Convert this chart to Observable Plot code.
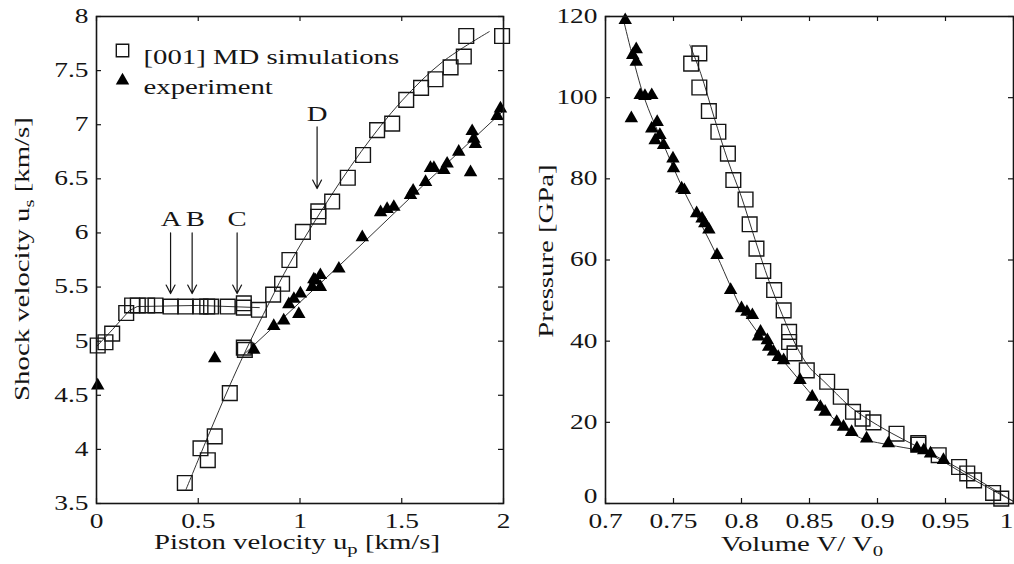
<!DOCTYPE html>
<html><head><meta charset="utf-8">
<script src="https://cdn.jsdelivr.net/npm/d3@7"></script>
<script src="https://cdn.jsdelivr.net/npm/@observablehq/plot@0.6"></script>
<style>
html,body{margin:0;padding:0;background:#fff;}
#wrap{position:relative;width:1014px;height:564px;font-family:"Liberation Serif","Times New Roman",serif;color:#151515;overflow:hidden;}
.lab{position:absolute;white-space:nowrap;font-size:21px;line-height:1;}
.sub{font-size:0.72em;position:relative;top:0.32em;}
</style></head>
<body>
<div id="wrap">
  <div id="left" style="position:absolute;left:0;top:0"></div>
  <div id="right" style="position:absolute;left:505px;top:0"></div>
  <div class="lab" style="left:297px;top:532px;transform:translateX(-50%) scaleX(1.37)">Piston velocity u<span class="sub">p</span> [km/s]</div>
  <div class="lab" style="left:22px;top:259px;transform:translate(-50%,-50%) rotate(-90deg) scaleX(1.37)">Shock velocity u<span class="sub">s</span> [km/s]</div>
  <div class="lab" style="left:802px;top:534px;transform:translateX(-50%) scaleX(1.37)">Volume V/ V<span class="sub">0</span></div>
  <div class="lab" style="left:546px;top:251px;transform:translate(-50%,-50%) rotate(-90deg) scaleX(1.37)">Pressure [GPa]</div>
</div>
<script>
// ---------- Left panel data: shock velocity vs piston velocity ----------
const mdUp = [0.006,0.044,0.077,0.146,0.175,0.203,0.249,0.29,0.364,0.437,0.511,0.544,0.563,0.645,0.724,0.724,0.798,0.868,0.912,0.948,1.014,1.09,1.09,1.158,1.235,1.31,1.379,1.453,1.522,1.595,1.666,1.74,1.805,1.817,1.993,0.724,0.729,0.655,0.581,0.511,0.547,0.434];
const mdUs = [4.96,4.99,5.07,5.26,5.33,5.33,5.33,5.33,5.32,5.32,5.32,5.32,5.32,5.32,5.35,5.31,5.29,5.43,5.53,5.75,6.01,6.20,6.15,6.29,6.51,6.72,6.95,7.01,7.23,7.34,7.42,7.53,7.63,7.82,7.82,4.94,4.92,4.52,4.12,4.01,3.90,3.69];
const expUp = [0.006,0.581,0.773,0.871,0.92,0.945,0.97,0.994,1.002,1.06,1.076,1.10,1.10,1.068,1.191,1.306,1.396,1.428,1.461,1.543,1.556,1.617,1.641,1.658,1.707,1.723,1.78,1.838,1.846,1.854,1.862,1.969,1.985];
const expUs = [4.59,4.84,4.92,5.14,5.19,5.34,5.39,5.25,5.44,5.50,5.56,5.61,5.50,5.57,5.67,5.96,6.19,6.22,6.24,6.35,6.39,6.47,6.60,6.60,6.58,6.64,6.75,6.56,6.94,6.87,6.82,7.08,7.15];
// fitted curves (vertices)
const fitElasticUp = [0,0.08,0.16,0.2,0.5,0.8];
const fitElasticUs = [4.95,5.11,5.28,5.32,5.33,5.31];
const fitPlasticUp = [0.44,0.55,0.65,0.73,0.85,0.95,1.1,1.3,1.5,1.7,1.93];
const fitPlasticUs = [3.63,4.13,4.57,4.90,5.36,5.72,6.19,6.75,7.22,7.58,7.86];
const fitExpUp = [0.72,1.2,1.6,2.0];
const fitExpUs = [4.87,5.71,6.43,7.13];
// annotations
const arrowLabels = ["A","B","C","D"];
const arrowX = [0.364,0.47,0.691,1.084];
const arrowTop = [6.0,6.0,6.0,6.98];
const arrowTip = [5.44,5.44,5.44,6.41];
const labelX = [0.367,0.486,0.691,1.084];
const labelY = [6.13,6.13,6.13,7.1];
const xTicksL = [0,0.5,1,1.5,2];
const yTicksL = [3.5,4,4.5,5,5.5,6,6.5,7,7.5,8];
const legendLabels = ["[001] MD simulations","experiment"];

// ---------- Right panel data: pressure vs volume ----------
const mdV = [0.769,0.763,0.769,0.776,0.783,0.790,0.794,0.803,0.806,0.811,0.816,0.824,0.831,0.835,0.835,0.839,0.848,0.863,0.873,0.882,0.889,0.897,0.914,0.930,0.930,0.945,0.960,0.966,0.971,0.985,0.991];
const mdP = [110.9,108.4,102.5,96.7,91.6,86.2,79.7,74.9,68.8,62.8,57.3,52.6,47.6,42.3,39.8,37.0,32.8,30.0,26.3,22.6,20.9,20.0,17.2,14.9,14.5,11.9,9.0,7.4,5.7,2.6,1.2];
const expV = [0.7145,0.7226,0.720,0.7226,0.7255,0.734,0.729,0.719,0.738,0.734,0.740,0.7365,0.7427,0.7496,0.750,0.756,0.758,0.767,0.771,0.773,0.776,0.782,0.792,0.800,0.804,0.808,0.814,0.8125,0.819,0.820,0.8235,0.827,0.831,0.843,0.852,0.858,0.8615,0.870,0.875,0.881,0.892,0.908,0.929,0.934,0.939,0.9485];
const expP = [119.1,111.9,110.5,108.8,100.6,100.6,100.4,94.9,94.0,92.4,90.8,89.5,88.3,85.0,82.6,77.6,77.2,71.5,70.2,69.0,67.5,61.2,52.6,48.1,47.2,46.4,42.3,41.1,40.2,38.6,37.4,36.1,35.3,30.4,26.3,23.8,22.6,20.1,18.9,17.6,16.0,14.8,13.6,13.1,12.3,10.7];
const fitMdV = [0.762,0.77,0.78,0.79,0.80,0.81,0.82,0.83,0.84,0.85,0.86,0.87,0.88,0.90,0.92,0.94,0.96,0.98,1.0];
const fitMdP = [113,106,95,84.5,75.5,65,55,46.5,39,33.5,30.3,27,23.8,19.3,15.6,12.2,8.6,4.6,0.5];
const fitExpV = [0.713,0.728,0.742,0.757,0.77,0.782,0.792,0.80,0.81,0.82,0.831,0.843,0.855,0.868,0.88,0.89,0.90,0.914,0.934,0.95,0.97,1.0];
const fitExpP = [119.5,100.5,89,77.5,69,61,53.5,48,43,38.8,35,30.2,25.5,20.8,17.6,15.8,15.0,14.1,12.7,10,6,0.5];
const xTicksR = [0.7,0.75,0.8,0.85,0.9,0.95,1];
const yTicksR = [0,20,40,60,80,100,120];

// ---------- helpers ----------
const ink = "#151515";
const font = "'Liberation Serif','Times New Roman',serif";
const stretchX = 1.37; // the reference's lettering is wide
const zip = (a, b) => a.map((v, i) => ({x: v, y: b[i]}));
const sqR = 8.3, triR = 5.0;
const fmt = d => String(d);

function widenText(svg, s) {
  d3.select(svg).selectAll("text").each(function() {
    const t = this.getAttribute("transform") || "";
    const xa = this.getAttribute("x"), ya = this.getAttribute("y");
    if (xa != null || ya != null) {
      const X = +xa || 0, Y = +ya || 0;
      this.setAttribute("transform", `${t} translate(${X},${Y}) scale(${s},1) translate(${-X},${-Y})`);
    } else {
      this.setAttribute("transform", `${t} scale(${s},1)`);
    }
  });
  return svg;
}

function panel({width, height, mL, mR, mT, mB, xDom, yDom, xTicks, yTicks, axes, marks}) {
  const pw = width - mL - mR, ph = height - mT - mB;
  const svg = Plot.plot({
    width, height, marginLeft: mL, marginRight: mR, marginTop: mT, marginBottom: mB,
    style: {fontFamily: font, fontSize: "20px", color: ink, background: "transparent", overflow: "visible"},
    x: {domain: xDom}, y: {domain: yDom},
    marks: [
      ...marks,
      // inward ticks on all four sides
      Plot.tickX(xTicks, {x: d => d, insetTop: ph - 5, stroke: ink, strokeWidth: 1.2}),
      Plot.tickX(xTicks, {x: d => d, insetBottom: ph - 5, stroke: ink, strokeWidth: 1.2}),
      Plot.tickY(yTicks, {y: d => d, insetRight: pw - 5, stroke: ink, strokeWidth: 1.2}),
      Plot.tickY(yTicks, {y: d => d, insetLeft: pw - 5, stroke: ink, strokeWidth: 1.2}),
      ...axes,
      Plot.frame({stroke: ink, strokeWidth: 1.6})
    ]
  });
  return widenText(svg, stretchX);
}
const xAxis = (ticks, o = {}) => Plot.axisX(ticks, {tickSize: 0, tickPadding: 10, tickFormat: fmt, label: null, fontSize: 20, ...o});
const yAxis = (ticks, o = {}) => Plot.axisY(ticks, {tickSize: 0, tickPadding: 8, tickFormat: fmt, label: null, fontSize: 20, ...o});

// ---------- left chart ----------
const left = panel({
  width: 510, height: 564, mL: 96, mR: 7, mT: 16, mB: 61,
  xDom: [0, 2], yDom: [3.5, 8], xTicks: xTicksL, yTicks: yTicksL,
  axes: [xAxis(xTicksL), yAxis(yTicksL)],
  marks: [
    Plot.line(zip(fitElasticUp, fitElasticUs), {x: "x", y: "y", stroke: "#333", strokeWidth: 1}),
    Plot.line(zip(fitPlasticUp, fitPlasticUs), {x: "x", y: "y", stroke: "#333", strokeWidth: 1, curve: "catmull-rom"}),
    Plot.line(zip(fitExpUp, fitExpUs), {x: "x", y: "y", stroke: "#333", strokeWidth: 1}),
    Plot.dot(zip(mdUp, mdUs), {x: "x", y: "y", symbol: "square", r: sqR, stroke: ink, strokeWidth: 1.4, fill: "none"}),
    Plot.dot(zip(expUp, expUs), {x: "x", y: "y", symbol: "triangle", r: triR, fill: "#000", stroke: "none"}),
    Plot.arrow(arrowLabels.map((l, i) => ({l, x: arrowX[i], y1: arrowTop[i], y2: arrowTip[i]})),
      {x: "x", y1: "y1", y2: "y2", stroke: ink, strokeWidth: 1.2, headLength: 12, headAngle: 55}),
    Plot.text(arrowLabels.map((l, i) => ({l, x: labelX[i], y: labelY[i]})),
      {x: "x", y: "y", text: "l", fontSize: 21, fill: ink}),
    // legend
    Plot.dot([legendLabels[0]], {frameAnchor: "top-left", dx: 26, dy: 34, symbol: "square", r: 7, stroke: ink, strokeWidth: 1.4, fill: "none"}),
    Plot.dot([legendLabels[1]], {frameAnchor: "top-left", dx: 26, dy: 64, symbol: "triangle", r: triR, fill: "#000"}),
    Plot.text([legendLabels[0]], {frameAnchor: "top-left", dx: 47, dy: 33, text: d => d, textAnchor: "start", fontSize: 21, fill: ink}),
    Plot.text([legendLabels[1]], {frameAnchor: "top-left", dx: 47, dy: 63, text: d => d, textAnchor: "start", fontSize: 21, fill: ink})
  ]
});
document.getElementById("left").append(left);

// ---------- right chart ----------
const right = panel({
  width: 509, height: 564, mL: 100, mR: 1, mT: 16, mB: 61,
  xDom: [0.7, 1], yDom: [0, 120], xTicks: xTicksR, yTicks: yTicksR,
  axes: [
    xAxis(xTicksR.slice(0, -1)), xAxis(xTicksR.slice(-1), {dx: -7}),
    yAxis(yTicksR.slice(1)), yAxis(yTicksR.slice(0, 1), {dy: -7})
  ],
  marks: [
    Plot.line(zip(fitMdV, fitMdP), {x: "x", y: "y", stroke: "#333", strokeWidth: 1, curve: "catmull-rom"}),
    Plot.line(zip(fitExpV, fitExpP), {x: "x", y: "y", stroke: "#333", strokeWidth: 1, curve: "catmull-rom"}),
    Plot.dot(zip(mdV, mdP), {x: "x", y: "y", symbol: "square", r: sqR, stroke: ink, strokeWidth: 1.4, fill: "none"}),
    Plot.dot(zip(expV, expP), {x: "x", y: "y", symbol: "triangle", r: triR, fill: "#000", stroke: "none"})
  ]
});
document.getElementById("right").append(right);
</script>
</body></html>
